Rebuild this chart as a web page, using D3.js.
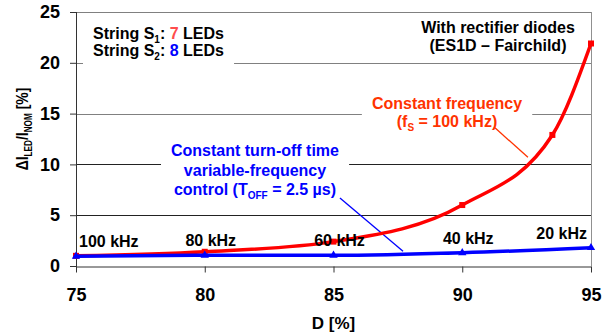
<!DOCTYPE html>
<html>
<head>
<meta charset="utf-8">
<script src="https://cdn.jsdelivr.net/npm/d3@7"></script>
<style>
  body { margin: 0; background: #fff; }
  text { font-family: "Liberation Sans", Arial, sans-serif; font-weight: bold; }
</style>
</head>
<body>
<div id="chart"></div>
<script>
// constant frequency (red) and constant T_OFF (blue) curves
const dutyCF = [75, 80, 85, 90, 93.5, 95]
const deltaCF = [1.0, 1.4, 2.4, 6.0, 12.9, 21.9]
const dutyVF = [75, 80, 85, 90, 95]
const deltaVF = [0.95, 1.05, 1.05, 1.3, 1.8]
const freqLabels = ['100 kHz', '80 kHz', '60 kHz', '40 kHz', '20 kHz']
const xTicks = [75, 80, 85, 90, 95]
const yTicks = [0, 5, 10, 15, 20, 25]

const width = 603
const height = 335
const x = d3.scaleLinear().domain([75, 95]).range([76, 591])
const y = d3.scaleLinear().domain([0, 25]).range([266, 12])

const svg = d3.select('#chart')
  .append('svg')
  .attr('width', width)
  .attr('height', height)

// grid
svg.append('g')
  .selectAll('line')
  .data(yTicks.slice(1))
  .enter()
  .append('line')
  .attr('x1', x(75))
  .attr('x2', x(95))
  .attr('y1', d => Math.round(y(d)) + 0.5)
  .attr('y2', d => Math.round(y(d)) + 0.5)
  .attr('stroke', d => d >= 15 ? '#808080' : '#222')
  .attr('stroke-width', 1)

// right border
svg.append('line')
  .attr('x1', x(95) + 0.5).attr('x2', x(95) + 0.5)
  .attr('y1', y(25)).attr('y2', y(0))
  .attr('stroke', '#909090')

// axes
const yAxis = d3.axisLeft(y).tickValues(yTicks).tickSize(6).tickPadding(10).tickSizeOuter(0)
const gy = svg.append('g')
  .attr('transform', `translate(${x(75)},0)`)
  .call(yAxis)
gy.select('.domain').remove()
gy.selectAll('line').attr('stroke', '#333')
gy.selectAll('text').style('font-size', '18px').attr('fill', '#000')

const xAxis = d3.axisBottom(x).tickValues(xTicks).tickSize(6).tickPadding(16).tickSizeOuter(0)
const gx = svg.append('g')
  .attr('transform', `translate(0,${Math.round(y(0)) + 0.5})`)
  .call(xAxis)
gx.select('.domain').attr('stroke', '#333')
gx.selectAll('line').attr('stroke', '#333')
gx.selectAll('text').style('font-size', '18px').attr('fill', '#000')

svg.append('line')
  .attr('x1', x(75) + 0.5).attr('x2', x(75) + 0.5)
  .attr('y1', y(25)).attr('y2', y(0) + 6)
  .attr('stroke', '#333')

// axis titles
svg.append('text')
  .attr('x', x(85))
  .attr('y', 329)
  .attr('text-anchor', 'middle')
  .style('font-size', '17px')
  .text('D [%]')

const yTitle = svg.append('text')
  .attr('transform', `translate(28,${(y(0) + y(25)) / 2 - 10}) rotate(-90) scale(0.82,1)`)
  .attr('text-anchor', 'middle')
  .style('font-size', '17px')
yTitle.append('tspan').text('ΔI')
yTitle.append('tspan').attr('dy', 4).style('font-size', '10px').text('LED')
yTitle.append('tspan').attr('dy', -4).text('/I')
yTitle.append('tspan').attr('dy', 4).style('font-size', '10px').text('NOM')
yTitle.append('tspan').attr('dy', -4).text(' [%]')

// text blocks with white boxes behind them
const boxes = svg.append('g')
const texts = svg.append('g')

const addBlock = (cx, anchor, lines, color, padX, padY) => {
  const g = texts.append('g')
  lines.forEach(line => {
    const t = g.append('text')
      .attr('x', cx)
      .attr('y', line.y)
      .attr('text-anchor', anchor)
      .attr('fill', color)
      .style('font-size', '16px')
    line.parts.forEach(p => {
      const s = t.append('tspan').text(p.t)
      if (p.sub) s.attr('dy', 4).style('font-size', '10px')
      if (p.up) s.attr('dy', -4)
      if (p.color) s.attr('fill', p.color)
    })
  })
  const b = g.node().getBBox()
  boxes.append('rect')
    .attr('x', b.x - padX)
    .attr('y', b.y - padY)
    .attr('width', b.width + padX * 2)
    .attr('height', b.height + padY * 2)
    .attr('fill', '#fff')
}

// legend
addBlock(93, 'start', [
  {y: 39, parts: [{t: 'String S'}, {t: '1', sub: true}, {t: ': ', up: true}, {t: '7', color: '#ff4d4d'}, {t: ' LEDs'}]},
  {y: 56, parts: [{t: 'String S'}, {t: '2', sub: true}, {t: ': ', up: true}, {t: '8', color: '#0000ff'}, {t: ' LEDs'}]}
], '#000', 10, 5)

addBlock(498, 'middle', [
  {y: 33, parts: [{t: 'With rectifier diodes'}]},
  {y: 51, parts: [{t: '(ES1D – Fairchild)'}]}
], '#000', 4, 1)

addBlock(447, 'middle', [
  {y: 109, parts: [{t: 'Constant frequency'}]},
  {y: 127, parts: [{t: '(f'}, {t: 'S', sub: true}, {t: ' = 100 kHz)', up: true}]}
], '#ff3300', 10, 4)

addBlock(255, 'middle', [
  {y: 156, parts: [{t: 'Constant turn-off time'}]},
  {y: 176, parts: [{t: 'variable-frequency'}]},
  {y: 195, parts: [{t: 'control (T'}, {t: 'OFF', sub: true}, {t: ' = 2.5 µs)', up: true}]}
], '#0000ff', 10, 4)

// leader lines
const leaders = [
  {from: [91.27, 13.6], to: [92.55, 10.7], color: '#ff3300'},
  {from: [85.25, 6.7], to: [87.7, 1.45], color: '#0000ff'}
]
svg.append('g')
  .selectAll('line')
  .data(leaders)
  .enter()
  .append('line')
  .attr('x1', d => x(d.from[0]))
  .attr('y1', d => y(d.from[1]))
  .attr('x2', d => x(d.to[0]))
  .attr('y2', d => y(d.to[1]))
  .attr('stroke', d => d.color)
  .attr('stroke-width', 1.3)

// curves
const cf = dutyCF.map((d, i) => [d, deltaCF[i]])
const vf = dutyVF.map((d, i) => [d, deltaVF[i]])
const line = d3.line()
  .x(d => x(d[0]))
  .y(d => y(d[1]))
  .curve(d3.curveMonotoneX)

svg.append('path')
  .datum(cf)
  .attr('d', line)
  .attr('fill', 'none')
  .attr('stroke', '#ff0000')
  .attr('stroke-width', 3.5)

svg.append('g')
  .selectAll('rect')
  .data(cf)
  .enter()
  .append('rect')
  .attr('x', d => x(d[0]) - 3)
  .attr('y', d => y(d[1]) - 3)
  .attr('width', 6)
  .attr('height', 6)
  .attr('fill', '#ff0000')

svg.append('path')
  .datum(vf)
  .attr('d', line)
  .attr('fill', 'none')
  .attr('stroke', '#0000ff')
  .attr('stroke-width', 3.5)

svg.append('g')
  .selectAll('path')
  .data(vf)
  .enter()
  .append('path')
  .attr('d', d3.symbol().type(d3.symbolTriangle).size(30))
  .attr('transform', d => `translate(${x(d[0])},${y(d[1])})`)
  .attr('fill', '#0000ff')

// frequency labels along the blue curve
svg.append('g')
  .selectAll('text')
  .data(vf)
  .enter()
  .append('text')
  .attr('x', (d, i) => i === 0 ? x(d[0]) + 3 : i === vf.length - 1 ? x(d[0]) - 4 : x(d[0]) + 6)
  .attr('y', d => y(d[1]) - 9)
  .attr('text-anchor', (d, i) => i === 0 ? 'start' : i === vf.length - 1 ? 'end' : 'middle')
  .style('font-size', '16px')
  .attr('fill', '#000')
  .text((d, i) => freqLabels[i])
</script>
</body>
</html>
